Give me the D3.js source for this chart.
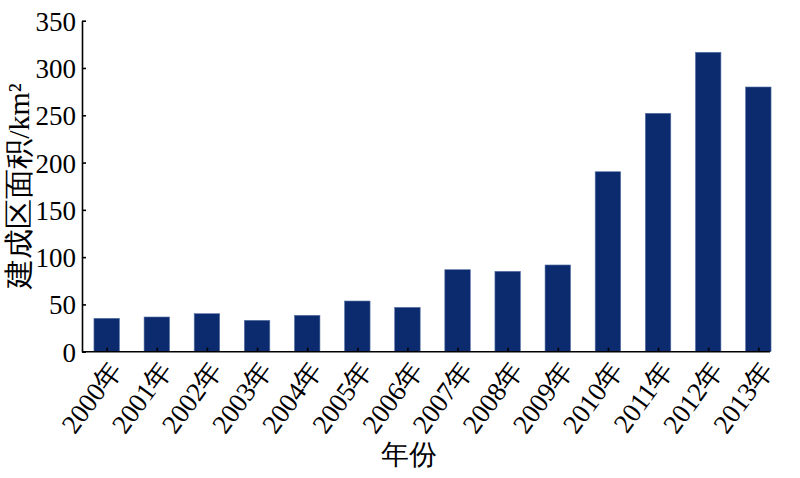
<!DOCTYPE html>
<html><head><meta charset="utf-8">
<script src="https://cdn.jsdelivr.net/npm/d3@7"></script>
<style>body{margin:0;background:#fff}</style>
</head><body>
<svg id="c" width="800" height="478"></svg>
<script>
const years = ["2000年","2001年","2002年","2003年","2004年","2005年","2006年","2007年","2008年","2009年","2010年","2011年","2012年","2013年"];
const areas = [35.3, 36.7, 40.2, 33.2, 38.5, 53.6, 46.9, 86.7, 85.0, 91.7, 190.3, 252.1, 316.6, 279.9];
const yTicks = [0, 50, 100, 150, 200, 250, 300, 350];
const yTitle = "建成区面积/km²";
const xTitle = "年份";

const FF = "'Liberation Serif',serif";
const svg = d3.select("#c");
const axL = 82, axR = 770, y0 = 351.7, yTop = 20.7;

const x = d3.scalePoint().domain(years).range([106.7, 758.3]);
const y = d3.scaleLinear().domain([0, 350]).range([y0, yTop]);
const bw = 25.5;

svg.append("g").selectAll("rect").data(areas).join("rect")
  .attr("x", (d,i) => x(years[i]) - bw/2)
  .attr("y", d => y(d))
  .attr("width", bw)
  .attr("height", d => y0 - y(d))
  .attr("fill", "#0c2b6e")
  .attr("stroke", "#5b76a8")
  .attr("stroke-width", 0.6);

// y axis
const ya = svg.append("g").attr("transform", `translate(${axL},0)`)
  .call(d3.axisLeft(y).tickValues(yTicks).tickSizeInner(-4).tickSizeOuter(0).tickPadding(6));
ya.attr("font-family", null).attr("font-size", null);
ya.select(".domain").attr("stroke", "#000").attr("stroke-width", 1.6);
ya.selectAll(".tick line").attr("stroke", "#000").attr("stroke-width", 1.6);
ya.selectAll("text").style("font-family", FF).style("font-size", "27px").attr("fill", "#000").attr("dy", "0.35em");

// x axis
const xa = svg.append("g").attr("transform", `translate(0,${y0})`)
  .call(d3.axisBottom(x).tickSizeInner(-4).tickSizeOuter(0).tickFormat(""));
xa.select(".domain").remove();
xa.append("line").attr("x1", axL).attr("x2", axR).attr("y1", 0).attr("y2", 0)
  .attr("stroke", "#000").attr("stroke-width", 1.6);
xa.selectAll(".tick line").attr("stroke", "#000").attr("stroke-width", 1.6);

svg.append("g").selectAll("text").data(years).join("text")
  .attr("transform", d => `translate(${x(d) + 16},${y0 + 18}) rotate(-54)`)
  .attr("text-anchor", "end")
  .style("font-family", FF).style("font-size", "27px").attr("fill", "#000")
  .text(d => d);

svg.append("text")
  .attr("transform", `translate(29,186) rotate(-90)`)
  .attr("text-anchor", "middle")
  .style("font-family", FF).style("font-size", "30px").attr("fill", "#000")
  .text(yTitle);

svg.append("text")
  .attr("x", 409).attr("y", 464)
  .attr("text-anchor", "middle")
  .style("font-family", FF).style("font-size", "28px").attr("fill", "#000")
  .text(xTitle);
</script>
</body></html>
